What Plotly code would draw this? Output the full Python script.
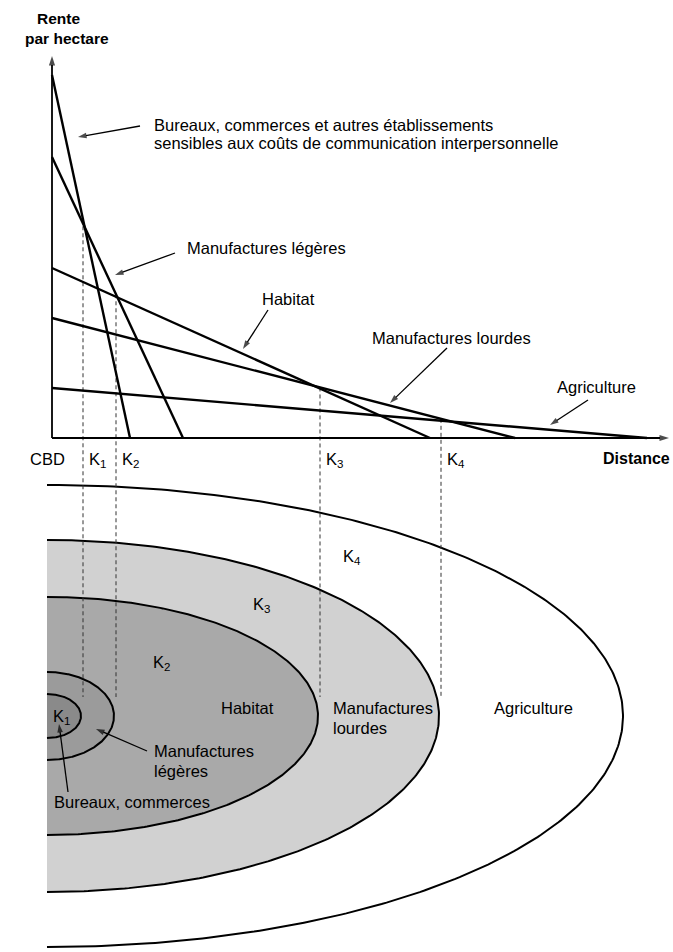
import numpy as np
import plotly.graph_objects as go

# ---------------- data ----------------
usages = ["Bureaux, commerces", "Manufactures légères", "Habitat",
          "Manufactures lourdes", "Agriculture"]
rente_cbd = [363, 281, 170, 120, 50]          # rente par hectare au CBD
distance_max = [78, 131, 378, 463, 595]       # distance où la rente devient nulle
frontieres = [31, 64, 268, 389]               # K1..K4
frontiere_labels = ["K<sub>1</sub>", "K<sub>2</sub>", "K<sub>3</sub>", "K<sub>4</sub>"]
limite_agricole = 573

# ---------------- style / layout constants ----------------
FONT = "Liberation Sans, Arial, Helvetica, sans-serif"
FS = 16.5
CX, CY = -5, -278                 # centre of the concentric zones
ZONE_B = [231, 176, 119, 44, 22]  # vertical half-axes (outer -> inner)
ZONE_FILL = ["#ffffff", "#d1d1d1", "#a9a9a9", "#9b9b9b", "#8a8a8a"]
DASH_END = -259

fig = go.Figure()

# concentric half-ellipses (outer first)
outer = [limite_agricole] + frontieres[::-1]
t = np.linspace(-np.pi / 2, np.pi / 2, 300)
for R, b, col in zip(outer, ZONE_B, ZONE_FILL):
    a = R - CX - 2
    fig.add_trace(go.Scatter(x=CX + a * np.cos(t), y=CY + b * np.sin(t),
                             mode="lines", fill="toself", fillcolor=col,
                             line=dict(color="black", width=2),
                             hoverinfo="skip", showlegend=False))

# dashed boundaries
def rente(i, x):
    return max(0.0, rente_cbd[i] * (1 - x / distance_max[i]))

for k in frontieres:
    top = max(rente(i, k) for i in range(len(usages)))
    fig.add_trace(go.Scatter(x=[k, k], y=[top, DASH_END], mode="lines",
                             line=dict(color="#333333", width=1, dash="4px,3px"),
                             hoverinfo="skip", showlegend=False))

# bid-rent lines
for r, d in zip(rente_cbd, distance_max):
    fig.add_trace(go.Scatter(x=[0, d], y=[r, 0], mode="lines",
                             line=dict(color="black", width=2.4),
                             hoverinfo="skip", showlegend=False))

def P(px, py):
    return px - 52, 438 - py

ann = []

def text(s, px, py, xanchor="left", size=FS, bold=False):
    x, y = P(px, py)
    ann.append(dict(x=x, y=y, xref="x", yref="y", text=f"<b>{s}</b>" if bold else s,
                    showarrow=False, xanchor=xanchor, yanchor="middle",
                    font=dict(family=FONT, size=size, color="black")))

def arrow(tx, ty, hx, hy, width=1.3, head=9):
    x, y = P(hx, hy)
    ax, ay = P(tx, ty)
    fig.add_trace(go.Scatter(x=[ax, x], y=[ay, y], mode="lines+markers",
                             line=dict(color="black", width=width),
                             marker=dict(symbol=["circle", "arrow"], size=[0, head],
                                         angleref="previous", color="black",
                                         line=dict(width=0)),
                             hoverinfo="skip", showlegend=False))

# axes
arrow(52, 438, 52, 56, width=1.8, head=10)
arrow(52, 438, 669, 438, width=1.8, head=10)
text("Rente", 58, 18, "center", 15.5, True)
text("par hectare", 67, 38, "center", 15.5, True)
text("Distance", 672, 458, "right", 16, True)
text("CBD", 47, 459, "center")
for k, lab in zip(frontieres, frontiere_labels):
    text(lab, 52 + k + 4, 460)

# top labels
text("Bureaux, commerces et autres établissements", 152, 125)
text("sensibles aux coûts de communication interpersonnelle", 152, 143)
arrow(140, 126, 78, 137)
text("Manufactures légères", 185, 248)
arrow(175, 253, 115, 275)
text("Habitat", 260, 299)
arrow(268, 310, 243, 349)
text("Manufactures lourdes", 370, 338)
arrow(447, 348, 390, 403)
text("Agriculture", 555, 387)
arrow(588, 400, 550, 425)

# bottom labels
text("K<sub>4</sub>", 341, 557)
text("K<sub>3</sub>", 251, 605)
text("K<sub>2</sub>", 151, 663)
text("K<sub>1</sub>", 51, 717)
text("Habitat", 219, 708)
text("Manufactures", 331, 708)
text("lourdes", 331, 728)
text("Agriculture", 492, 708)
text("Manufactures", 152, 751)
text("légères", 152, 771)
arrow(147, 751, 96, 729)
text("Bureaux, commerces", 52, 802)
arrow(68, 792, 59, 724)

fig.update_layout(
    width=673, height=952, autosize=False,
    margin=dict(l=0, r=0, t=0, b=0),
    paper_bgcolor="white", plot_bgcolor="white",
    showlegend=False, annotations=ann,
    xaxis=dict(range=[-52, 621], visible=False, fixedrange=True),
    yaxis=dict(range=[-514, 438], visible=False, fixedrange=True),
)

fig.write_html(
    "out.html",
    config={"displayModeBar": False},
    post_script="document.documentElement.style.margin='0';"
                "document.body.style.margin='0';document.body.style.padding='0';"
                "document.body.style.overflow='hidden';",
)
